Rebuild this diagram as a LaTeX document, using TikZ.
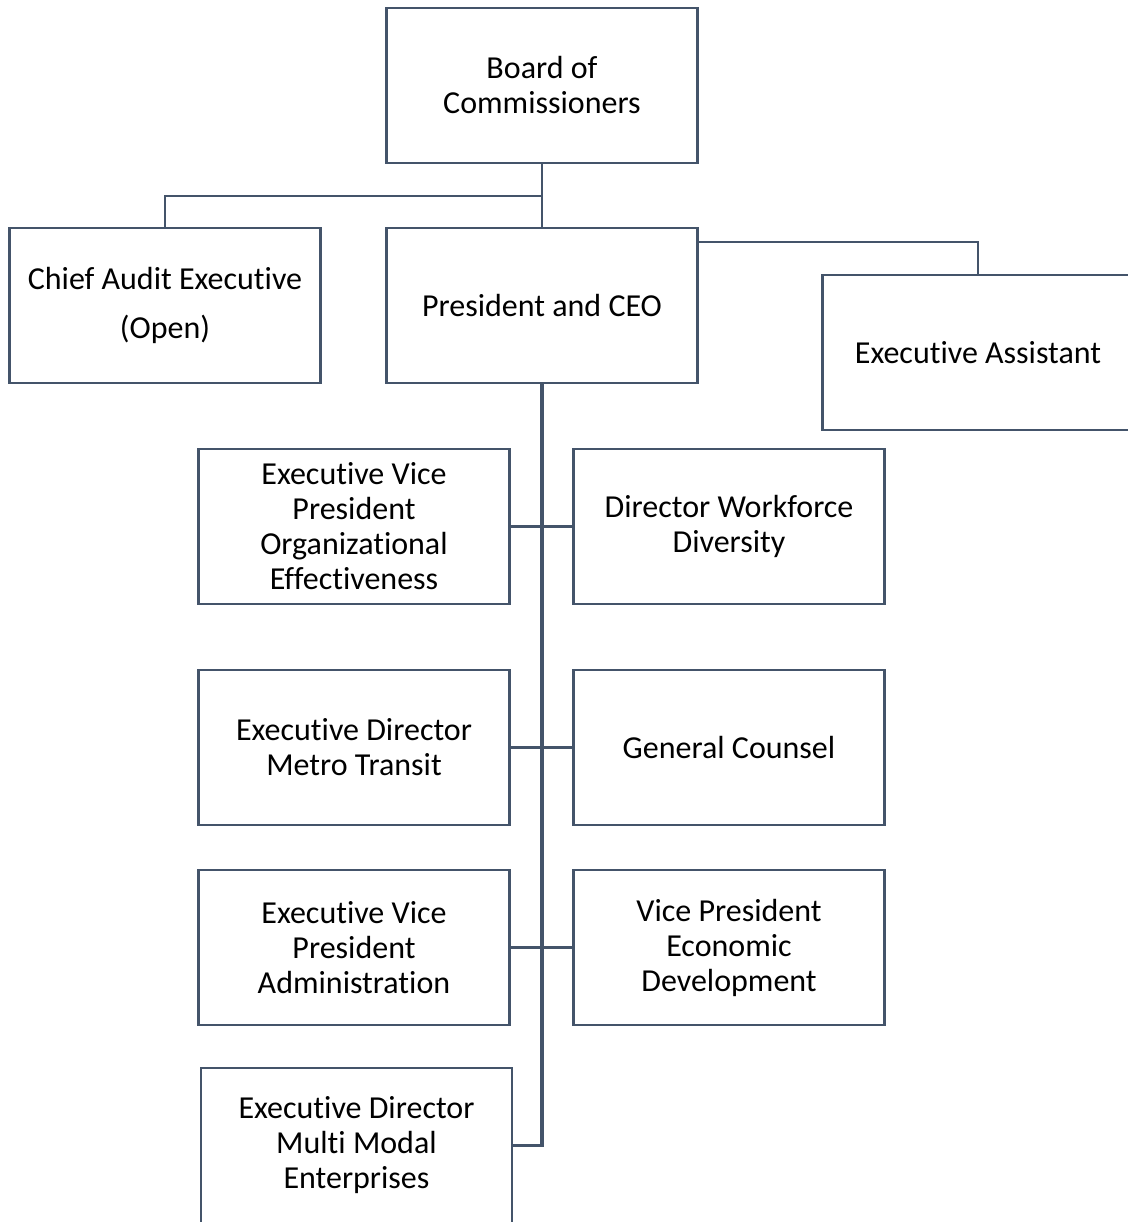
\documentclass[tikz,border=0pt]{standalone}
\usepackage{fontspec}
\setmainfont{Carlito}[Ligatures={NoCommon}]
\usepackage{xcolor}
\usepackage{tikz}
\usetikzlibrary{positioning}

\definecolor{slate}{HTML}{44546A}

\begin{document}
\begin{tikzpicture}[
    x=1pt, y=-1pt,
    node distance=65pt and 64pt,
    orgbox/.style={rectangle, draw=slate, line width=2.6pt, outer sep=0pt, fill=white, minimum width=311pt, minimum height=155pt, text width=300pt, align=flush center, inner sep=0pt, font=\fontsize{32}{35}\selectfont},
    link/.style={draw=slate, line width=2.6pt},
    trunk/.style={draw=slate, line width=3.8pt}
]
\useasboundingbox (0,0) rectangle (1127,1222);

\node[orgbox] (board) at (542,85.5) {Board of\\Commissioners};
\node[orgbox, below=65pt of board] (pres) {President and CEO};
\node[orgbox, left=66pt of pres] (audit) {Chief Audit Executive\\[14pt](Open)};
\node[orgbox, right=125pt of pres, yshift=-47pt] (assist) {Executive Assistant};

\node[orgbox] (evporg) at (354,526.5) {Executive Vice\\President\\Organizational\\Effectiveness};
\node[orgbox, right=of evporg] (diversity) {Director Workforce\\Diversity};
\node[orgbox, below=66pt of evporg] (metro) {Executive Director\\Metro Transit};
\node[orgbox, right=of metro] (counsel) {General Counsel};
\node[orgbox, below=45pt of metro] (evpadmin) {Executive Vice\\President\\Administration};
\node[orgbox, right=of evpadmin] (econdev) {Vice President\\Economic\\Development};
\node[orgbox, below=43pt of evpadmin, xshift=2.5pt] (multimodal) {Executive Director\\Multi Modal\\Enterprises};

\coordinate (split) at ([yshift=-33pt]board.south);

\draw[link] (board.south) -- (pres.north);
\draw[link] (split) -| (audit.north);
\draw[link] ([yshift=-14pt]pres.north east) -| (assist.north);
\draw[trunk] (pres.south) |- (multimodal.east);
\draw[link] (evporg.east) -- (diversity.west);
\draw[link] (metro.east) -- (counsel.west);
\draw[link] (evpadmin.east) -- (econdev.west);

\end{tikzpicture}
\end{document}
